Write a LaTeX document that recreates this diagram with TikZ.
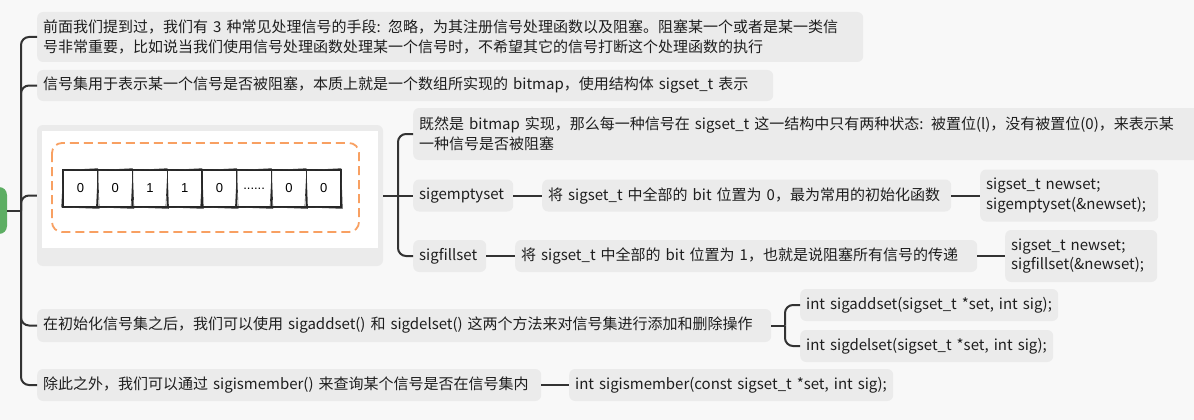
\documentclass[tikz,border=0pt]{standalone}
\usepackage{fontspec}
\setmainfont{Noto Sans CJK SC}
\newfontfamily\cellfont{Liberation Sans}
\newcommand\mysixdots{......}
\definecolor{bgc}{HTML}{F8F8F8}
\definecolor{boxc}{HTML}{EBEBEB}
\definecolor{linec}{HTML}{333333}
\definecolor{textc}{HTML}{1E1E1E}
\definecolor{rootc}{HTML}{5DAE63}
\definecolor{orangec}{HTML}{F8A062}
\begin{document}
\begin{tikzpicture}[x=1pt,y=-1pt,
  conn/.style={draw=linec, line width=2pt},
  elbow/.style={conn, rounded corners=8pt},
  tb/.style={fill=boxc, rounded corners=6pt, inner xsep=6pt, inner ysep=0pt,
    anchor=west, align=left, text=textc, font=\fontsize{15}{19.5}\selectfont},
  rootbox/.style={fill=rootc, rounded corners=8pt, minimum width=38pt,
    minimum height=47pt, inner sep=0pt},
  imgbox/.style={fill=boxc, rounded corners=6pt, minimum width=346pt,
    minimum height=141pt, inner sep=0pt},
  cell/.style={draw=black!85, line width=1.1pt, minimum width=34.75pt,
    minimum height=37pt, inner sep=0pt, text=black,
    font=\cellfont\fontsize{13}{13}\selectfont},
  sketch/.style={draw=black!80, line width=0.6pt},
]
\fill[bgc] (0,0) rectangle (1194,420);
\useasboundingbox (0,0) rectangle (1194,420);

% root
\node[rootbox] (root) at (-12,210.5) {};
\coordinate (sp) at (21,210.5);

% first level
\node[tb, text width=814pt, minimum height=50pt] (n1) at (37,37)
 {前面我们提到过，我们有 3 种常见处理信号的手段: 忽略，为其注册信号处理函数以及阻塞。阻塞某一个或者是某一类信\\号非常重要，比如说当我们使用信号处理函数处理某一个信号时，不希望其它的信号打断这个处理函数的执行};
\node[tb, text width=724pt, minimum height=31pt] (n2) at (37,85.5)
 {信号集用于表示某一个信号是否被阻塞，本质上就是一个数组所实现的 bitmap，使用结构体 sigset\_t 表示};

% image node
\node[imgbox] (img) at (210,195.5) {};
\fill[white] (42,131) rectangle (378,248);
\draw[orangec, line width=1.8pt, rounded corners=10pt, dash pattern=on 9pt off 5pt]
  (52,143) rectangle (359,232);
\foreach \v [count=\i from 0] in {0,0,1,1,0,\mysixdots,0,0} {
  \node[cell] (c\i) at (63+17.375+\i*34.75,188.5) {\v};
  \draw[sketch] ([shift={(1,0.9)}]c\i.north west) -- ([shift={(-0.6,-0.8)}]c\i.north east)
    -- ([shift={(0.8,0.9)}]c\i.south east) -- ([shift={(-0.8,-0.5)}]c\i.south west) -- cycle;
}

\node[tb, text width=775pt, minimum height=52pt] (n3) at (413,134)
 {既然是 bitmap 实现，那么每一种信号在 sigset\_t 这一结构中只有两种状态: 被置位(l)，没有被置位(0)，来表示某\\一种信号是否被阻塞};
\node[tb, text width=88pt, minimum height=32pt] (n4) at (413,195.5) {sigemptyset};
\node[tb, text width=397pt, minimum height=32pt] (n5) at (542,195.5)
 {将 sigset\_t 中全部的 bit 位置为 0，最为常用的初始化函数};
\node[tb, text width=166pt, minimum height=52pt] (n6) at (980,195.5)
 {sigset\_t newset;\\sigemptyset(\&newset);};
\node[tb, text width=61pt, minimum height=32pt] (n7) at (413,256) {sigfillset};
\node[tb, text width=450pt, minimum height=32pt] (n8) at (515,256)
 {将 sigset\_t 中全部的 bit 位置为 1，也就是说阻塞所有信号的传递};
\node[tb, text width=140pt, minimum height=52pt] (n9) at (1005,256)
 {sigset\_t newset;\\sigfillset(\&newset);};

\node[tb, text width=722pt, minimum height=33pt] (n10) at (37,325.5)
 {在初始化信号集之后，我们可以使用 sigaddset() 和 sigdelset() 这两个方法来对信号集进行添加和删除操作};
\node[tb, text width=246pt, minimum height=32pt] (n11) at (800,305)
 {int sigaddset(sigset\_t *set, int sig);};
\node[tb, text width=241pt, minimum height=32pt] (n12) at (800,346)
 {int sigdelset(sigset\_t *set, int sig);};
\node[tb, text width=492pt, minimum height=32pt] (n13) at (37,385)
 {除此之外，我们可以通过 sigismember() 来查询某个信号是否在信号集内};
\node[tb, text width=312pt, minimum height=32pt] (n14) at (569,385)
 {int sigismember(const sigset\_t *set, int sig);};

% connectors
\draw[conn] (root.east) -- (sp);
\draw[elbow] (sp) |- (n1.west);
\draw[elbow] (sp) |- (n2.west);
\draw[elbow] (sp) |- (img.west);
\draw[elbow] (sp) |- (n10.west);
\draw[elbow] (sp) |- (n13.west);

\coordinate (sp2) at (398,195.5);
\draw[conn] (img.east) -- (sp2);
\draw[elbow] (sp2) |- (n3.west);
\draw[conn] (sp2) -- (n4.west);
\draw[elbow] (sp2) |- (n7.west);
\draw[conn] (n4.east) -- (n5.west);
\draw[conn] (n5.east) -- (n6.west);
\draw[conn] (n7.east) -- (n8.west);
\draw[conn] (n8.east) -- (n9.west);

\coordinate (sp3) at (785,325.5);
\draw[conn] (n10.east) -- (sp3);
\draw[elbow] (sp3) |- (n11.west);
\draw[elbow] (sp3) |- (n12.west);
\draw[conn] (n13.east) -- (n14.west);
\end{tikzpicture}
\end{document}
